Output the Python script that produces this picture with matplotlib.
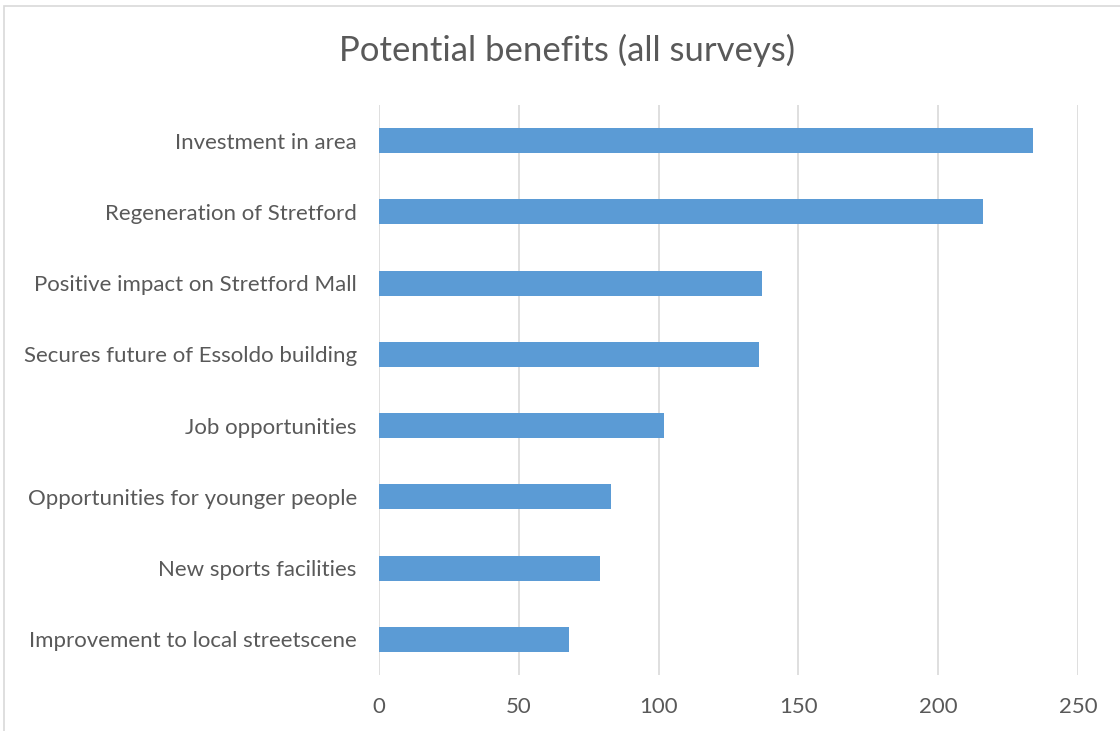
import matplotlib.pyplot as plt
from matplotlib.patches import Rectangle

categories = ["Investment in area", "Regeneration of Stretford",
              "Positive impact on Stretford Mall", "Secures future of Essoldo building",
              "Job opportunities", "Opportunities for younger people",
              "New sports facilities", "Improvement to local streetscene"]
values = [234, 216, 137, 136, 102, 83, 79, 68]
xticks = [0, 50, 100, 150, 200, 250]

plt.rcParams['font.family'] = ['Lato', 'DejaVu Sans']
txt = '#595959'

fig = plt.figure(figsize=(11.2, 7.31), dpi=100)
ax = fig.add_axes([379/1120, 56/731, 699/1120, 570/731])

pos = list(range(len(categories)))
ax.barh(pos, values, height=0.35, color='#5B9BD5', zorder=3)
ax.set_ylim(len(categories) - 0.5, -0.5)
ax.set_xlim(0, 250)
ax.set_yticks(pos)
ax.set_yticklabels(categories, fontsize=16, color=txt)
ax.set_xticks(xticks)
ax.set_xticklabels([str(t) for t in xticks], fontsize=16, color=txt)
ax.tick_params(axis='both', length=0)
ax.tick_params(axis='y', pad=16)
ax.tick_params(axis='x', pad=16)
ax.grid(axis='x', color='#D9D9D9', linewidth=1.2, zorder=0)
for s in ax.spines.values():
    s.set_visible(False)

fig.text(567/1120, 1 - 50/731, "Potential benefits (all surveys)", fontsize=25,
         color=txt, ha='center', va='center')

# outer chart border
fig.patches.append(Rectangle((4/1120, -0.1), 1.2, 1.1 - 6/731, transform=fig.transFigure,
                             fill=False, edgecolor='#D9D9D9', linewidth=1.2))

fig.savefig('out.png', dpi=100)
